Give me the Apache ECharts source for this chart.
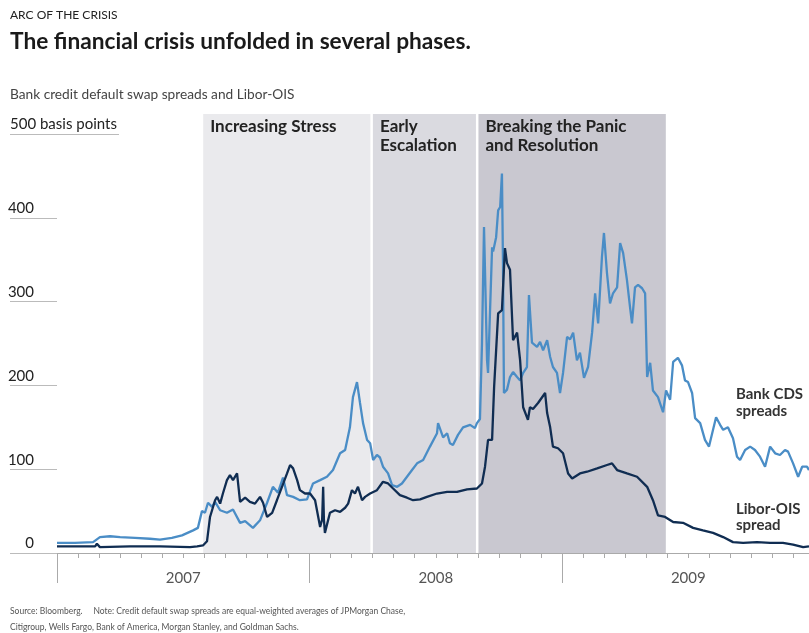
<!DOCTYPE html>
<html><head><meta charset="utf-8">
<script src="https://cdn.jsdelivr.net/npm/echarts@6/dist/echarts.min.js"></script>
<style>html,body{margin:0;padding:0;background:#fff}#c{width:809px;height:633px}</style>
</head><body><div id="c"></div>
<script>
// Time as decimal years
const cdsYears = [2007.000,2007.071,2007.143,2007.170,2007.210,2007.250,2007.309,2007.368,2007.408,2007.455,2007.495,2007.539,2007.558,2007.574,2007.586,2007.598,2007.614,2007.626,2007.646,2007.673,2007.697,2007.725,2007.745,2007.776,2007.804,2007.832,2007.855,2007.875,2007.895,2007.911,2007.935,2007.962,2007.990,
2008.014,2008.042,2008.069,2008.093,2008.121,2008.141,2008.160,2008.172,2008.188,2008.200,2008.212,2008.228,2008.240,2008.252,2008.267,2008.279,2008.291,2008.311,2008.327,2008.347,2008.366,2008.386,2008.406,2008.426,2008.450,2008.477,2008.505,2008.509,2008.529,2008.545,2008.556,2008.568,2008.588,2008.608,2008.636,2008.655,2008.663,2008.675,2008.683,2008.691,2008.703,2008.707,2008.723,2008.727,2008.739,2008.747,2008.755,2008.762,2008.766,2008.770,2008.782,2008.794,2008.806,2008.822,2008.834,2008.846,2008.861,2008.869,2008.881,2008.901,2008.913,2008.925,2008.941,2008.953,2008.964,2008.980,2008.992,
2009.004,2009.020,2009.032,2009.044,2009.059,2009.071,2009.087,2009.103,2009.119,2009.131,2009.143,2009.158,2009.166,2009.178,2009.190,2009.202,2009.218,2009.230,2009.242,2009.257,2009.269,2009.277,2009.289,2009.301,2009.317,2009.329,2009.337,2009.349,2009.360,2009.380,2009.400,2009.412,2009.428,2009.440,2009.459,2009.475,2009.487,2009.499,2009.515,2009.527,2009.547,2009.566,2009.582,2009.598,2009.610,2009.626,2009.638,2009.657,2009.677,2009.693,2009.705,2009.725,2009.745,2009.764,2009.784,2009.804,2009.824,2009.844,2009.863,2009.883,2009.895,2009.915,2009.935,2009.951,2009.970,2009.978];
const cdsValues = [12,12,13,19,20,19,18,17,16,18,21,27,30,50,48,60,55,61,51,48,52,36,38,30,39,60,79,72,90,69,67,63,64,
83,87,91,99,119,123,150,186,204,179,155,135,131,111,117,114,103,95,81,79,83,91,99,107,111,127,143,155,138,143,131,129,141,150,153,149,155,160,250,389,230,215,365,360,377,409,413,453,350,191,195,210,216,210,206,215,222,308,251,246,252,242,254,234,222,215,191,
215,258,255,263,230,239,209,222,263,310,274,353,382,334,298,310,317,370,358,326,294,274,317,320,316,310,210,227,194,186,168,194,183,228,233,224,206,204,191,161,155,135,127,147,162,153,147,150,137,115,111,123,127,123,115,103,127,119,117,123,121,107,91,103,103,99];
const liborYears = [2007.000,2007.091,2007.151,2007.158,2007.170,2007.289,2007.408,2007.527,2007.555,2007.578,2007.594,2007.606,2007.626,2007.634,2007.646,2007.657,2007.673,2007.685,2007.697,2007.713,2007.725,2007.745,2007.764,2007.784,2007.804,2007.816,2007.832,2007.852,2007.871,2007.891,2007.911,2007.923,2007.935,2007.951,2007.962,2007.982,
2008.002,2008.022,2008.042,2008.050,2008.054,2008.057,2008.061,2008.081,2008.101,2008.121,2008.141,2008.153,2008.168,2008.180,2008.192,2008.208,2008.220,2008.240,2008.267,2008.291,2008.311,2008.331,2008.358,2008.386,2008.410,2008.438,2008.465,2008.505,2008.545,2008.584,2008.624,2008.663,2008.683,2008.695,2008.707,2008.723,2008.731,2008.747,2008.762,2008.774,2008.782,2008.794,2008.806,2008.822,2008.834,2008.846,2008.865,2008.873,2008.885,2008.905,2008.933,2008.941,2008.953,2008.964,2008.984,
2009.004,2009.024,2009.040,2009.071,2009.099,2009.139,2009.178,2009.198,2009.218,2009.257,2009.297,2009.337,2009.360,2009.380,2009.408,2009.440,2009.479,2009.519,2009.558,2009.598,2009.638,2009.677,2009.717,2009.772,2009.824,2009.875,2009.915,2009.955,2009.978];
const liborValues = [8,8,8,11,7,8,8,7,8,9,14,43,63,67,59,71,87,93,87,95,61,66,61,59,67,60,43,48,63,79,95,105,101,87,75,71,
71,63,31,40,79,40,24,48,51,49,54,59,75,71,79,63,67,71,75,85,83,77,69,66,63,64,67,71,73,73,76,77,83,103,135,135,198,286,290,364,346,338,254,263,230,174,159,174,172,179,191,167,150,127,125,
119,95,89,95,97,101,105,107,99,95,91,79,63,45,43,37,36,30,27,24,19,13,12,13,12,12,10,7,8];
const yTicks = [0,100,200,300,400,500];
const yearTicks = [2007,2008,2009];
const yearLabelAt = [2007.5,2008.5,2009.5];
const phaseNames = ['Increasing Stress','Early\nEscalation','Breaking the Panic\nand Resolution'];
const phaseStart = [2007.579,2008.251,2008.669];
const phaseEnd = [2008.241,2008.659,2009.411];
const phaseColors = ['#EAEAED','#DADAE0','#C9C8D0'];

const zip = (a,b) => a.map((x,i)=>[x,b[i]]);
const FONT = 'Lato';
const chart = echarts.init(document.getElementById('c'), null, {renderer:'canvas'});
chart.setOption({
  animation:false,
  backgroundColor:'#fff',
  textStyle:{fontFamily:FONT},
  title:[
    {text:'ARC OF THE CRISIS', left:10, top:9, padding:0, textStyle:{fontFamily:FONT,fontSize:12,fontWeight:'normal',color:'#222'}},
    {text:'The financial crisis unfolded in several phases.', left:10, top:30, padding:0, textStyle:{fontFamily:FONT,fontSize:22.7,fontWeight:'bold',color:'#1a1a1a'}},
    {text:'Bank credit default swap spreads and Libor-OIS', left:10, top:88, padding:0, textStyle:{fontFamily:FONT,fontSize:13.7,fontWeight:'normal',color:'#444'}},
    {text:'Bank CDS\nspreads', left:736, top:386, padding:0, textStyle:{fontFamily:FONT,fontSize:15,fontWeight:'bold',color:'#333',lineHeight:17}},
    {text:'Libor-OIS\nspread', left:736, top:501, padding:0, textStyle:{fontFamily:FONT,fontSize:15,fontWeight:'bold',color:'#333',lineHeight:16}},
    {text:'Source: Bloomberg.     Note: Credit default swap spreads are equal-weighted averages of JPMorgan Chase,\nCitigroup, Wells Fargo, Bank of America, Morgan Stanley, and Goldman Sachs.', left:10, top:603, padding:0,
      textStyle:{fontFamily:FONT,fontSize:8.5,fontWeight:'normal',color:'#555',lineHeight:16}}
  ],
  grid:{left:57,right:0,top:114,bottom:80,containLabel:false},
  xAxis:{
    type:'value', min:2007, max:2009.978, interval:1,
    axisLine:{show:true,lineStyle:{color:'#aaa',width:1}},
    axisTick:{show:true,length:30,customValues:yearTicks,lineStyle:{color:'#aaa'}},
    minorTick:{show:true,splitNumber:12,length:5,lineStyle:{color:'#aaa'}},
    axisLabel:{show:true,customValues:yearLabelAt,formatter:v=>String(Math.floor(v)),margin:18,fontFamily:FONT,fontSize:15,color:'#555'},
    splitLine:{show:false}
  },
  yAxis:{
    type:'value', min:0, max:524, interval:100,
    axisLine:{show:false},
    axisTick:{show:true,length:47,customValues:yTicks,lineStyle:{color:'#bbb'}},
    axisLabel:{customValues:yTicks,align:'left',margin:47,verticalAlign:'bottom',padding:[0,0,2,0],
      fontFamily:FONT,fontSize:15,color:'#222',
      formatter:v=> v===500 ? '{a|500 basis points}' : '{n|'+v+'}',
      rich:{a:{fontFamily:FONT,fontSize:15,color:'#222'},n:{fontFamily:FONT,fontSize:15,color:'#222',width:24,align:'right'}}},
    splitLine:{show:false}
  },
  series:[
    {type:'line', name:'Bank CDS spreads', data:zip(cdsYears,cdsValues), showSymbol:false, symbol:'none',
      lineStyle:{color:'#4A8DC6',width:2.3}, z:3,
      markArea:{silent:true, z:1,
        data: phaseNames.map((n,i)=>[{xAxis:phaseStart[i], name:n, itemStyle:{color:phaseColors[i]}},{xAxis:phaseEnd[i]}]),
        label:{show:true,position:'insideTopLeft',distance:3,offset:[4,0],fontFamily:FONT,fontSize:17,fontWeight:'bold',color:'#222',lineHeight:19}
      },
      markLine:{silent:true,symbol:'none',label:{show:false},lineStyle:{color:'#bbb',width:1,type:'solid'},
        data:[[{coord:[2007,500]},{coord:[2007.2455,500]}]]}
    },
    {type:'line', name:'Libor-OIS spread', data:zip(liborYears,liborValues), showSymbol:false, symbol:'none',
      lineStyle:{color:'#102D52',width:2.3}, z:4}
  ]
});
</script></body></html>
